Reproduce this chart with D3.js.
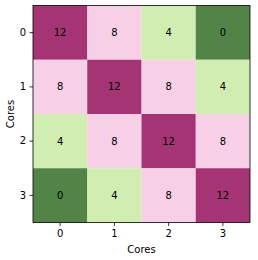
<!DOCTYPE html>
<html>
<head>
<meta charset="utf-8">
<script src="https://cdn.jsdelivr.net/npm/d3@7"></script>
<style>
  body { margin: 0; background: #fff; }
  svg { font-family: "DejaVu Sans", sans-serif; }
</style>
</head>
<body>
<svg id="chart"></svg>
<script>
// data
const rows = ["0", "1", "2", "3"];
const cols = ["0", "1", "2", "3"];
const values = [
  [12, 8, 4, 0],
  [8, 12, 8, 4],
  [4, 8, 12, 8],
  [0, 4, 8, 12]
];
const xLabel = "Cores";
const yLabel = "Cores";

const width = 258, height = 260;
const marginLeft = 33, marginTop = 5.5, plotSize = 217;

const svg = d3.select("#chart").attr("width", width).attr("height", height);

// PiYG reversed, like matplotlib PiYG_r
const piyg = ["#8e0152","#c51b7d","#de77ae","#f1b6da","#fde0ef","#f7f7f7",
              "#e6f5d0","#b8e186","#7fbc41","#4d9221","#276419"];
const color = d3.scaleLinear()
  .domain(d3.range(11).map(i => 12 - i * 12 / 10))
  .range(piyg);

const x = d3.scaleBand().domain(cols).range([marginLeft, marginLeft + plotSize]);
const y = d3.scaleBand().domain(rows).range([marginTop, marginTop + plotSize]);

const cells = [];
values.forEach((r, i) => r.forEach((v, j) => cells.push({row: rows[i], col: cols[j], v})));

// white under cells so opacity blends like matplotlib alpha
svg.append("rect")
  .attr("x", marginLeft).attr("y", marginTop)
  .attr("width", plotSize).attr("height", plotSize)
  .attr("fill", "white");

svg.append("g").selectAll("rect")
  .data(cells)
  .join("rect")
  .attr("x", d => x(d.col))
  .attr("y", d => y(d.row))
  .attr("width", x.bandwidth())
  .attr("height", y.bandwidth())
  .attr("fill", d => color(d.v))
  .attr("fill-opacity", 0.8);

svg.append("g").selectAll("text")
  .data(cells)
  .join("text")
  .attr("x", d => x(d.col) + x.bandwidth() / 2)
  .attr("y", d => y(d.row) + y.bandwidth() / 2)
  .attr("dy", "0.35em")
  .attr("text-anchor", "middle")
  .attr("font-size", "10px")
  .attr("fill", "black")
  .text(d => d.v);

// axes
const xAxis = svg.append("g")
  .attr("transform", `translate(0, ${marginTop + plotSize})`)
  .call(d3.axisBottom(x).tickSize(3.5).tickPadding(3.5).tickSizeOuter(0));
const yAxis = svg.append("g")
  .attr("transform", `translate(${marginLeft}, 0)`)
  .call(d3.axisLeft(y).tickSize(3.5).tickPadding(3.5).tickSizeOuter(0));
[xAxis, yAxis].forEach(g => {
  g.attr("font-size", 10).attr("font-family", "DejaVu Sans, sans-serif");
  g.select(".domain").remove();
  g.selectAll(".tick line").attr("stroke", "black").attr("stroke-width", 0.8);
  g.selectAll(".tick text").attr("fill", "black");
});

// frame
svg.append("rect")
  .attr("x", marginLeft).attr("y", marginTop)
  .attr("width", plotSize).attr("height", plotSize)
  .attr("fill", "none")
  .attr("stroke", "black")
  .attr("stroke-width", 0.8);

svg.append("text")
  .attr("x", marginLeft + plotSize / 2)
  .attr("y", 252.5)
  .attr("text-anchor", "middle")
  .attr("font-size", "10px")
  .text(xLabel);

svg.append("text")
  .attr("transform", `translate(13.5, ${marginTop + plotSize / 2}) rotate(-90)`)
  .attr("text-anchor", "middle")
  .attr("font-size", "10px")
  .text(yLabel);
</script>
</body>
</html>
